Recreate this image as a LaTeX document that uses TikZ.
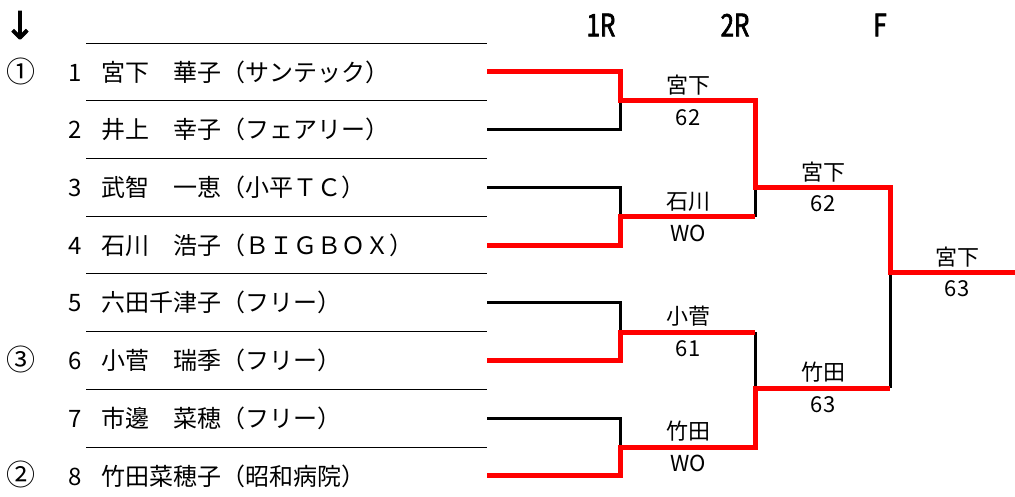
\documentclass[tikz,border=0pt]{standalone}
\usepackage{fontspec}
\setmainfont{Noto Sans CJK JP}
\newfontfamily\headfont[FakeStretch=0.78,FakeBold=2]{Noto Sans CJK JP}
\newfontfamily\symfont[FakeBold=2]{DejaVu Sans}
\usetikzlibrary{positioning}

\begin{document}
\begin{tikzpicture}
[x=1pt, y=-1pt, line join=miter,
txt/.style={inner sep=0pt, text height=21.1pt, text depth=2.9pt, font=\fontsize{24}{28}\selectfont},
player/.style={txt, anchor=west},
seed/.style={inner sep=0pt, font=\fontsize{29}{32}\selectfont},
result/.style={inner sep=0pt, text height=19.4pt, text depth=2.6pt, font=\fontsize{22}{26}\selectfont},
round/.style={inner sep=0pt, font=\headfont\fontsize{31}{34}\selectfont},
rowline/.style={line width=1pt},
lose/.style={line width=3pt},
win/.style={line width=5pt, red}]

\useasboundingbox (0,0) rectangle (1015,497);

% header
\node[inner sep=0pt, font=\symfont\fontsize{38}{40}\selectfont] (arrow) at (20,25) {↓};
\node[round] (r1) at (601,25) {1R};
\node[round] (r2) at (735,25) {2R};
\node[round] (rf) at (880,25) {F};

% rows
\foreach \k in {0,...,7}
  \draw[rowline] (86,43.2+57.7*\k) -- (487,43.2+57.7*\k);

\node[seed] (seed1) at (21,71) {①};
\node[seed] (seed3) at (21,359.5) {③};
\node[seed] (seed2) at (21,474.9) {②};

\node[txt] (num1) at (75,72) {1};
\node[txt] (num2) at (75,129.7) {2};
\node[txt] (num3) at (75,187.4) {3};
\node[txt] (num4) at (75,245.1) {4};
\node[txt] (num5) at (75,302.8) {5};
\node[txt] (num6) at (75,360.5) {6};
\node[txt] (num7) at (75,418.2) {7};
\node[txt] (num8) at (75,475.9) {8};

\node[player] (pl1) at (101,72) {宮下　華子（サンテック）};
\node[player] (pl2) at (101,129.7) {井上　幸子（フェアリー）};
\node[player] (pl3) at (101,187.4) {武智　一恵（小平ＴＣ）};
\node[player] (pl4) at (101,245.1) {石川　浩子（ＢＩＧＢＯＸ）};
\node[player] (pl5) at (101,302.8) {六田千津子（フリー）};
\node[player] (pl6) at (101,360.5) {小菅　瑞季（フリー）};
\node[player] (pl7) at (101,418.2) {市邊　菜穂（フリー）};
\node[player] (pl8) at (101,475.9) {竹田菜穂子（昭和病院）};

% bracket points
\coordinate (p1) at (487,72);
\coordinate (p2) at (487,129.7);
\coordinate (p3) at (487,187.4);
\coordinate (p4) at (487,245.1);
\coordinate (p5) at (487,302.8);
\coordinate (p6) at (487,360.5);
\coordinate (p7) at (487,418.2);
\coordinate (p8) at (487,475.9);
\coordinate (q1) at (620,101);
\coordinate (q2) at (620,217);
\coordinate (q3) at (620,332);
\coordinate (q4) at (620,447);
\coordinate (s1) at (755,101);
\coordinate (s2) at (755,217);
\coordinate (s3) at (755,332);
\coordinate (s4) at (755,447);
\coordinate (t1) at (755,188);
\coordinate (t2) at (755,388);
\coordinate (u1) at (890,188);
\coordinate (u2) at (890,388);
\coordinate (v) at (890,273);
\coordinate (w) at (1015,273);

% losers
\draw[lose] (p2) -| (q1);
\draw[lose] (p3) -| (q2);
\draw[lose] (p5) -| (q3);
\draw[lose] (p7) -| (q4);
\draw[lose] (s2) -- (t1);
\draw[lose] (s3) -- (t2);
\draw[lose] (u2) -- (v);

% winners
\draw[win] (p1) -| (q1) -- (s1) -- (t1) -- (u1) -- (v) -- (w);
\draw[win] (p4) -| (q2) -- (s2);
\draw[win] (p6) -| (q3) -- (s3);
\draw[win] (p8) -| (q4) -- (s4) -- (t2) -- (u2);

% results
\node[result] (w1) at (688,85) {宮下};
\node[result] (sc1) at (688,117) {62};
\node[result] (w2) at (688,201) {石川};
\node[result] (sc2) at (688,233) {WO};
\node[result] (w3) at (688,316) {小菅};
\node[result] (sc3) at (688,348) {61};
\node[result] (w4) at (688,431) {竹田};
\node[result] (sc4) at (688,463) {WO};
\node[result] (w5) at (823,172) {宮下};
\node[result] (sc5) at (823,203) {62};
\node[result] (w6) at (823,372) {竹田};
\node[result] (sc6) at (823,404) {63};
\node[result] (w7) at (957,257) {宮下};
\node[result] (sc7) at (957,288) {63};
\end{tikzpicture}
\end{document}
